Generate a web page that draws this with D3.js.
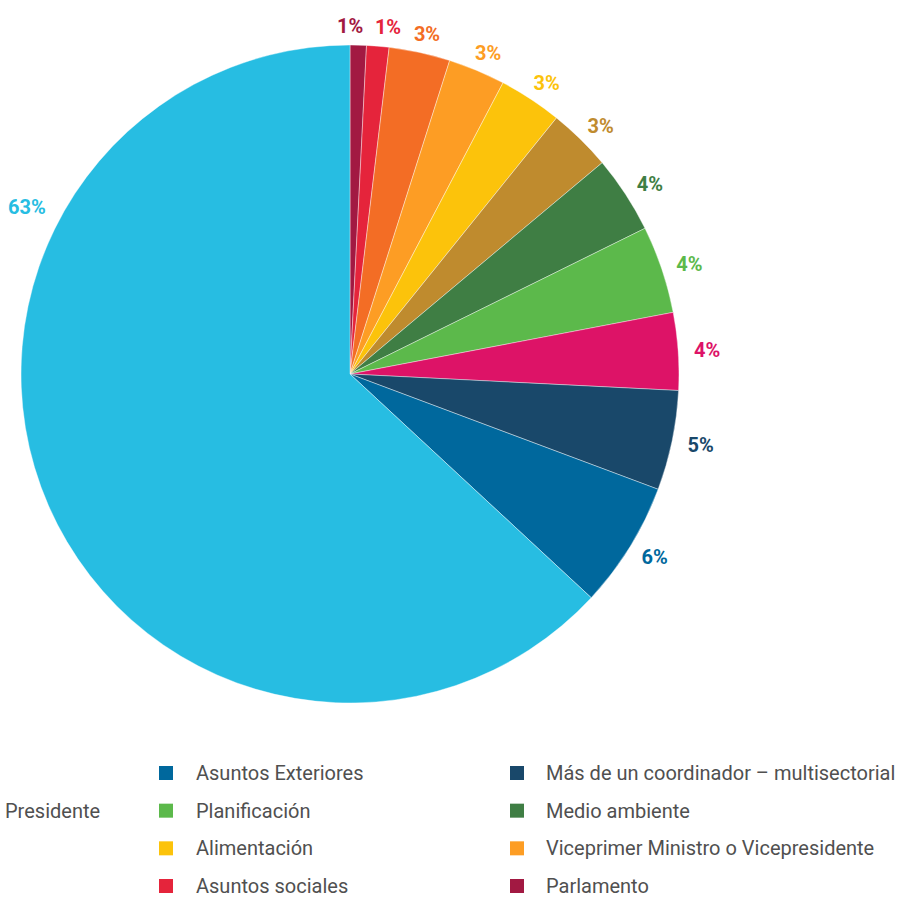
<!DOCTYPE html>
<html>
<head>
<meta charset="utf-8">
<script src="https://cdn.jsdelivr.net/npm/d3@7"></script>
<style>
  body { margin: 0; background: #fff; }
  svg { display: block; font-family: Roboto, "Noto Sans", sans-serif; }
</style>
</head>
<body>
<svg id="chart" width="899" height="897"></svg>
<script>
// slices, clockwise from 12 o'clock
const categories = [
  "Parlamento", "Asuntos sociales", "Otro (naranja)", "Viceprimer Ministro o Vicepresidente",
  "Alimentación", "Otro (ocre)", "Medio ambiente", "Planificación", "Otro (magenta)",
  "Más de un coordinador – multisectorial", "Asuntos Exteriores", "Presidente"
];
const shares = [0.8, 1.1, 3.0, 2.8, 3.1, 3.1, 3.8, 4.3, 3.8, 4.9, 6.2, 63.1];
const colors = [
  "#a21942", "#e5243b", "#f36d25", "#fd9d24", "#fcc30b", "#bf8b2e",
  "#3f7e44", "#5cb94b", "#dd1367", "#19486a", "#00689d", "#27bde2"
];

// legend as drawn: two columns of swatches, plus "Presidente" without swatch
const legendLeft = ["Asuntos Exteriores", "Planificación", "Alimentación", "Asuntos sociales"];
const legendRight = ["Más de un coordinador – multisectorial", "Medio ambiente", "Viceprimer Ministro o Vicepresidente", "Parlamento"];

const svg = d3.select("#chart");
const cx = 350, cy = 374, r = 329, labelR = 340;
const boxW = 36, boxH = 16, minGap = 39;

const color = d3.scaleOrdinal().domain(categories).range(colors);
const data = categories.map((c, i) => ({ name: c, value: shares[i] }));

const pie = d3.pie().sort(null).value(d => d.value);
const arcs = pie(data);
const arc = d3.arc().innerRadius(0).outerRadius(r);

const g = svg.append("g").attr("transform", `translate(${cx},${cy})`);

g.selectAll("path")
  .data(arcs)
  .enter().append("path")
  .attr("d", arc)
  .attr("fill", d => color(d.data.name))
  .attr("stroke", "#fff")
  .attr("stroke-width", 0.4);

// label positions: box edge touches labelR along the mid angle
arcs.forEach(d => {
  let a = (d.startAngle + d.endAngle) / 2;
  let rr = labelR;
  if (d.data.value > 50) { a = 298 * Math.PI / 180; rr = 348; } // best-fit spot for the big slice
  d.lx = Math.sin(a) * rr + Math.sin(a) * boxW / 2;
  d.ly = -Math.cos(a) * rr - Math.cos(a) * boxH / 2;
});
// push neighbouring labels apart when they collide
for (let i = 0; i < arcs.length - 2; i++) {
  const a = arcs[i], b = arcs[i + 1];
  const dx = b.lx - a.lx;
  if (Math.abs(b.ly - a.ly) < boxH && dx < minGap) {
    const s = (minGap - dx) / 2;
    a.lx -= s; b.lx += s;
  }
}

g.selectAll("text.pct")
  .data(arcs)
  .enter().append("text")
  .attr("class", "pct")
  .attr("x", d => d.lx)
  .attr("y", d => d.ly)
  .attr("text-anchor", "middle")
  .attr("dy", "0.36em")
  .attr("font-size", 20)
  .attr("font-weight", 700)
  .attr("fill", d => color(d.data.name))
  .text(d => Math.round(d.data.value) + "%");

// legend
const rowY = d3.scalePoint().domain(d3.range(4)).range([773, 886]);
const legend = svg.append("g").attr("font-size", 20).attr("fill", "#505050");

function legendColumn(items, swatchX, textX) {
  const rows = legend.selectAll(null)
    .data(items)
    .enter().append("g")
    .attr("transform", (d, i) => `translate(0,${rowY(i)})`);
  rows.append("rect")
    .attr("x", swatchX).attr("y", -7)
    .attr("width", 14).attr("height", 14)
    .attr("fill", d => color(d));
  rows.append("text")
    .attr("x", textX).attr("dy", "0.35em")
    .text(d => d);
}
legendColumn(legendLeft, 159, 196);
legendColumn(legendRight, 510, 546);

legend.append("text")
  .attr("x", 5).attr("y", rowY(1)).attr("dy", "0.35em")
  .text("Presidente");
</script>
</body>
</html>
